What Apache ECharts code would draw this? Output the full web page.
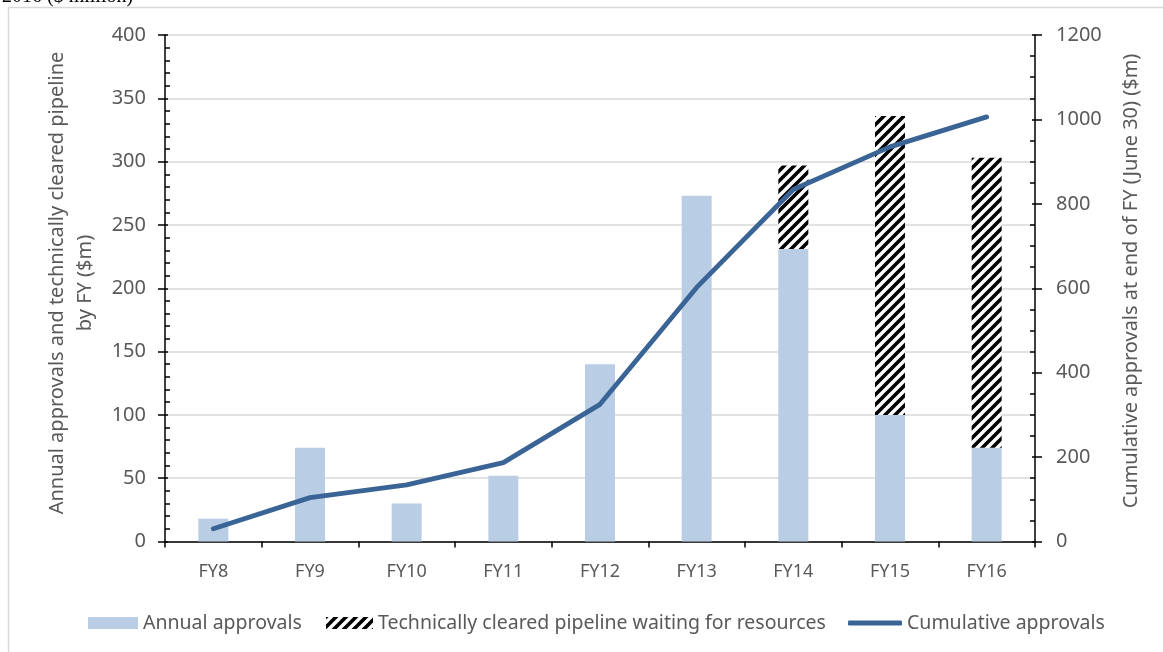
<!DOCTYPE html>
<html>
<head>
<meta charset="utf-8">
<script src="https://cdn.jsdelivr.net/npm/echarts@6/dist/echarts.min.js"></script>
<style>
html,body{margin:0;padding:0;background:#fff;}
#c{width:1163px;height:652px;}
</style>
</head>
<body>
<div id="c"></div>
<script>
const categories = ['FY8','FY9','FY10','FY11','FY12','FY13','FY14','FY15','FY16'];
const annualApprovals = [18, 74, 30, 52, 140, 273, 231, 100, 74];
const pipelineWaiting = [0, 0, 0, 0, 0, 0, 66, 236, 229];
const cumulativeApprovals = [30, 104, 134, 187, 325, 602, 834, 935, 1006];
const leftTicks = [0, 400, 50];
const rightTicks = [0, 1200, 200];

const FONT = 'Noto Sans';
const TXT = '#595959';

function hatch() {
  const c = document.createElement('canvas');
  const s = 10;
  c.width = s; c.height = s;
  const g = c.getContext('2d');
  g.fillStyle = '#fff';
  g.fillRect(0, 0, s, s);
  g.strokeStyle = '#000';
  g.lineWidth = 3.6;
  g.beginPath();
  g.moveTo(-3, s + 3); g.lineTo(s + 3, -3);
  g.moveTo(-3, 3); g.lineTo(3, -3);
  g.moveTo(s - 3, s + 3); g.lineTo(s + 3, s - 3);
  g.stroke();
  return c;
}
const pattern = {image: hatch(), repeat: 'repeat'};

const chart = echarts.init(document.getElementById('c'), null, {renderer: 'canvas'});
const legendBase = {
  orient: 'horizontal', top: 613, itemHeight: 12, padding: 0,
  textStyle: {fontFamily: FONT, fontSize: 19.5, color: TXT}, selectedMode: false
};
chart.setOption({
  animation: false,
  backgroundColor: '#fff',
  textStyle: {fontFamily: FONT},
  grid: {left: 165, right: 128, top: 35, bottom: 110.5, containLabel: false},
  xAxis: {
    type: 'category', data: categories,
    axisLine: {lineStyle: {color: '#000', width: 1.5}},
    axisTick: {show: true, length: 6, lineStyle: {color: '#000', width: 1.5}},
    axisLabel: {color: TXT, fontSize: 18, fontFamily: FONT, margin: 21}
  },
  yAxis: [
    {
      type: 'value', position: 'left', min: leftTicks[0], max: leftTicks[1], interval: leftTicks[2],
      axisLine: {show: true, lineStyle: {color: '#000', width: 1.5}},
      axisTick: {show: true, inside: true, length: 3, lineStyle: {color: '#000', width: 1.5}},
      minorTick: {show: true, splitNumber: 5, length: 5, lineStyle: {color: '#000', width: 1.5}},
      axisLabel: {color: TXT, fontSize: 20, fontFamily: FONT, margin: 19, formatter: v => String(v)},
      splitLine: {show: true, lineStyle: {color: '#d9d9d9', width: 1.5}}
    },
    {
      type: 'value', position: 'right', min: rightTicks[0], max: rightTicks[1], interval: rightTicks[2],
      axisLine: {show: true, lineStyle: {color: '#000', width: 1.5}},
      axisTick: {show: true, inside: true, length: 3, lineStyle: {color: '#000', width: 1.5}},
      minorTick: {show: true, splitNumber: 4, length: 5, lineStyle: {color: '#000', width: 1.5}},
      axisLabel: {color: TXT, fontSize: 20, fontFamily: FONT, margin: 21, formatter: v => String(v)},
      splitLine: {show: false}
    },
    {
      type: 'value', position: 'left', min: leftTicks[0], max: leftTicks[1], interval: leftTicks[2],
      axisLine: {show: false}, axisLabel: {show: false}, splitLine: {show: false},
      axisTick: {show: true, length: 7, lineStyle: {color: '#000', width: 1.5}}
    },
    {
      type: 'value', position: 'right', min: rightTicks[0], max: rightTicks[1], interval: rightTicks[2],
      axisLine: {show: false}, axisLabel: {show: false}, splitLine: {show: false},
      axisTick: {show: true, length: 7, lineStyle: {color: '#000', width: 1.5}}
    }
  ],
  legend: [
    Object.assign({}, legendBase, {left: 88, itemWidth: 50, data: [{name: 'Annual approvals', icon: 'rect'}]}),
    Object.assign({}, legendBase, {left: 326, itemWidth: 47, data: [{name: 'Technically cleared pipeline waiting for resources', icon: 'rect'}]}),
    Object.assign({}, legendBase, {left: 848, itemWidth: 54, itemHeight: 5, data: [{name: 'Cumulative approvals', icon: 'roundRect'}]})
  ],
  series: [
    {
      name: 'Annual approvals', type: 'bar', stack: 'fy', data: annualApprovals,
      barWidth: 30, itemStyle: {color: '#b9cde5'}
    },
    {
      name: 'Technically cleared pipeline waiting for resources', type: 'bar', stack: 'fy', data: pipelineWaiting,
      barWidth: 30, itemStyle: {color: pattern}
    },
    {
      name: 'Cumulative approvals', type: 'line', yAxisIndex: 1, data: cumulativeApprovals,
      symbol: 'none', lineStyle: {color: '#3a6496', width: 4.8, cap: 'round', join: 'round'},
      itemStyle: {color: '#3a6496'}, z: 5
    }
  ],
  graphic: [
    {type: 'rect', shape: {x: 8.5, y: 7.5, width: 1300, height: 800}, style: {fill: 'none', stroke: '#d9d9d9', lineWidth: 1.5}, silent: true, z: -10},
    {type: 'text', x: 2, y: -13, style: {text: '2016 ($ million)', fontFamily: 'Liberation Serif', fontSize: 20, fill: '#000'}},
    {type: 'text', x: 71, y: 283, rotation: Math.PI / 2,
     style: {text: 'Annual approvals and technically cleared pipeline\nby FY ($m)', fontFamily: FONT, fontSize: 20, lineHeight: 28, fill: TXT, align: 'center', verticalAlign: 'middle'}},
    {type: 'text', x: 1131, y: 281, rotation: Math.PI / 2,
     style: {text: 'Cumulative approvals at end of FY (June 30) ($m)', fontFamily: FONT, fontSize: 20, fill: TXT, align: 'center', verticalAlign: 'middle'}}
  ]
});
</script>
</body>
</html>
